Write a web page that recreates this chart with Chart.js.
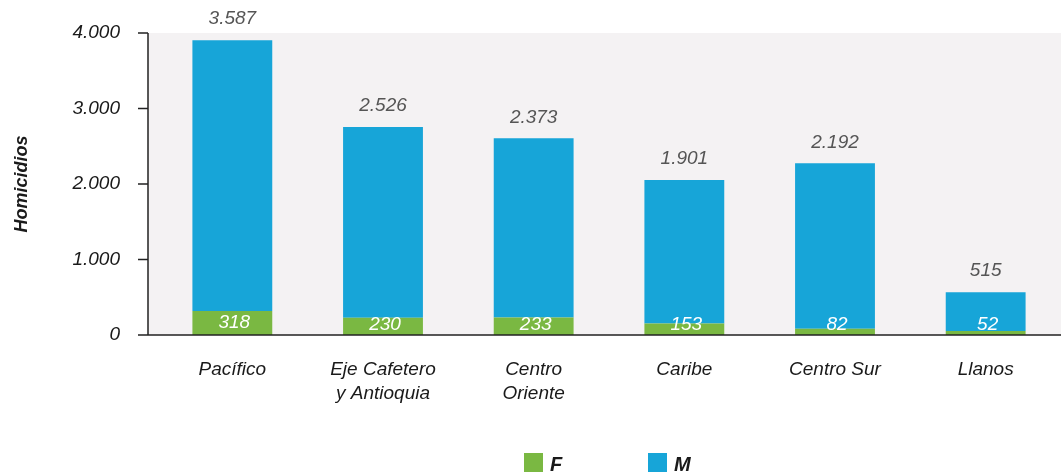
<!DOCTYPE html>
<html>
<head>
<meta charset="utf-8">
<script src="https://cdn.jsdelivr.net/npm/chart.js@4.4.1/dist/chart.umd.min.js"></script>
<style>
  body { margin: 0; background: #fff; }
  #wrap { width: 1061px; height: 473px; position: relative; }
</style>
</head>
<body>
<div id="wrap"><canvas id="barChart"></canvas></div>
<script>
const regiones = [['Pacífico'], ['Eje Cafetero', 'y Antioquia'], ['Centro', 'Oriente'], ['Caribe'], ['Centro Sur'], ['Llanos']];
const mujeres = [318, 230, 233, 153, 82, 52];    // F
const hombres = [3587, 2526, 2373, 1901, 2192, 515]; // M
const yTicks = ['0', '1.000', '2.000', '3.000', '4.000'];

const FONT = "'Liberation Sans', Arial, sans-serif";
const VERDE = '#7ab842';
const AZUL = '#17a5d8';

function puntos(n) {
    return String(n).replace(/\B(?=(\d{3})+(?!\d))/g, '.');
}

// fondo gris, ejes y marcas dibujados a mano
const ejesPlugin = {
    id: 'ejes',
    beforeDraw(chart) {
        const { ctx, chartArea } = chart;
        ctx.save();
        ctx.fillStyle = '#f4f2f3';
        ctx.fillRect(148, chartArea.top, chartArea.right - 148, chartArea.bottom - chartArea.top);
        ctx.restore();
    },
    afterDatasetsDraw(chart) {
        const { ctx, chartArea, scales } = chart;
        ctx.save();
        ctx.strokeStyle = '#222';
        ctx.lineWidth = 1.5;
        ctx.beginPath();
        ctx.moveTo(148, chartArea.top);
        ctx.lineTo(148, chartArea.bottom);
        ctx.moveTo(138, chartArea.bottom);
        ctx.lineTo(chartArea.right, chartArea.bottom);
        scales.y.ticks.forEach(t => {
            const y = scales.y.getPixelForValue(t.value);
            ctx.moveTo(138, y);
            ctx.lineTo(148, y);
        });
        ctx.stroke();

        // etiquetas de valores
        const metaF = chart.getDatasetMeta(0);
        const metaM = chart.getDatasetMeta(1);
        ctx.font = 'italic 19px ' + FONT;
        ctx.textAlign = 'center';
        ctx.textBaseline = 'middle';
        metaM.data.forEach((bar, i) => {
            ctx.fillStyle = '#555';
            ctx.fillText(puntos(hombres[i]), bar.x, bar.y - 21);
        });
        metaF.data.forEach((bar, i) => {
            ctx.fillStyle = '#fff';
            const y = Math.min((bar.y + bar.base) / 2, 325);
            ctx.fillText(puntos(mujeres[i]), bar.x + 2, y);
        });

        // título del eje y
        ctx.save();
        ctx.translate(22, (chartArea.top + chartArea.bottom) / 2);
        ctx.rotate(-Math.PI / 2);
        ctx.font = 'italic bold 18px ' + FONT;
        ctx.fillStyle = '#1a1a1a';
        ctx.fillText('Homicidios', 0, 0);
        ctx.restore();

        // leyenda
        const items = [{ x: 524 }, { x: 648 }];
        chart.data.datasets.forEach((ds, i) => {
            ctx.fillStyle = ds.backgroundColor;
            ctx.fillRect(items[i].x, 453, 19, 19);
            ctx.fillStyle = '#1a1a1a';
            ctx.font = 'italic bold 20px ' + FONT;
            ctx.textAlign = 'left';
            ctx.fillText(ds.label, items[i].x + 26, 465);
        });
        ctx.restore();
    }
};

const ctx = document.getElementById('barChart').getContext('2d');
const barChart = new Chart(ctx, {
    type: 'bar',
    data: {
        labels: regiones,
        datasets: [
            { label: 'F', data: mujeres, backgroundColor: VERDE },
            { label: 'M', data: hombres, backgroundColor: AZUL }
        ]
    },
    options: {
        responsive: true,
        maintainAspectRatio: false,
        animation: false,
        layout: { padding: { top: 33, right: 0, left: 0, bottom: 0 } },
        datasets: { bar: { categoryPercentage: 1, barPercentage: 0.53 } },
        scales: {
            x: {
                stacked: true,
                grid: { display: false, drawTicks: false },
                border: { display: false },
                ticks: {
                    padding: 22,
                    maxRotation: 0,
                    color: '#1a1a1a',
                    font: { family: FONT, size: 19, style: 'italic', lineHeight: 1.3 }
                },
                afterFit: function (scale) { scale.height = 138; }
            },
            y: {
                stacked: true,
                min: 0,
                max: 4000,
                grid: { display: false, drawTicks: false },
                border: { display: false },
                ticks: {
                    stepSize: 1000,
                    padding: 37,
                    color: '#1a1a1a',
                    font: { family: FONT, size: 19, style: 'italic' },
                    callback: function (value) { return yTicks[value / 1000]; }
                },
                afterFit: function (scale) {
                    scale.width = 157;
                    scale.paddingTop = 0;
                    scale.paddingBottom = 0;
                }
            }
        },
        plugins: {
            legend: { display: false },
            tooltip: { enabled: false }
        }
    },
    plugins: [ejesPlugin]
});
</script>
</body>
</html>
